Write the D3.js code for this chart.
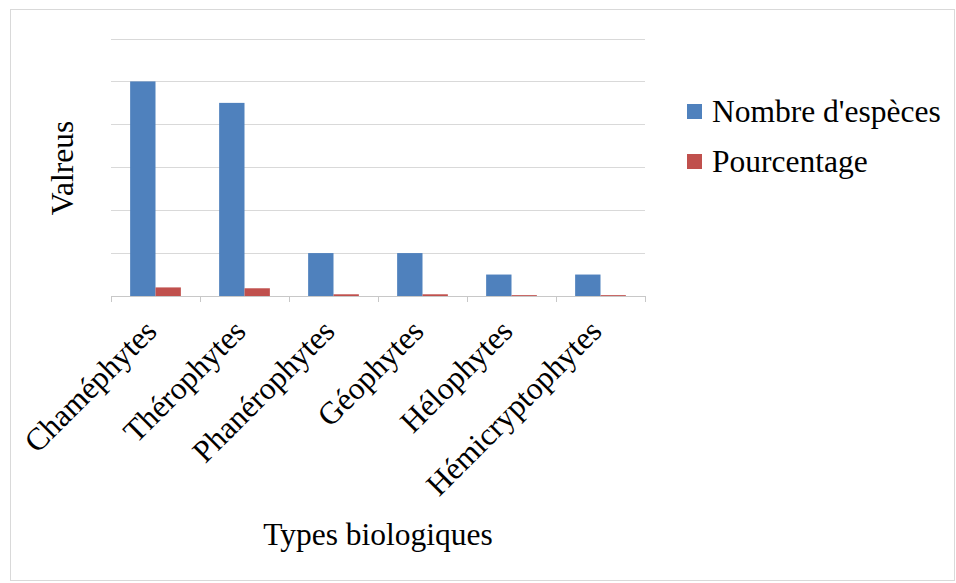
<!DOCTYPE html>
<html>
<head>
<meta charset="utf-8">
<script src="https://cdn.jsdelivr.net/npm/d3@7"></script>
<style>
  html, body { margin: 0; padding: 0; background: #fff; }
  svg { display: block; }
  text { font-family: "Liberation Serif", "Times New Roman", serif; fill: #000; }
</style>
</head>
<body>
<svg id="chart" width="956" height="583"></svg>
<script>
const categories = ["Chaméphytes", "Thérophytes", "Phanérophytes", "Géophytes", "Hélophytes", "Hémicryptophytes"];
const seriesNames = ["Nombre d'espèces", "Pourcentage"];
const nombreEspeces = [10, 9, 2, 2, 1, 1];
const pourcentage = [0.40, 0.36, 0.08, 0.08, 0.04, 0.04];
const yTicks = [0, 2, 4, 6, 8, 10, 12];
const colors = ["#4f81bd", "#c0504d"];

(function () {
const seriesValues = [nombreEspeces, pourcentage];
const svg = d3.select("#chart");
const fs = 31.5;

// outer frame
svg.append("rect")
  .attr("x", 10.5).attr("y", 9.5).attr("width", 944).attr("height", 571)
  .attr("fill", "none").attr("stroke", "#d9d9d9").attr("stroke-width", 1);

const pLeft = 111, pRight = 645, pTop = 38.5, pBottom = 296;

const x0 = d3.scaleBand().domain(categories).range([pLeft, pRight])
  .paddingInner(0.43).paddingOuter(0.215);
const x1 = d3.scaleBand().domain(seriesNames).range([0, x0.bandwidth()]).padding(0);
const y = d3.scaleLinear().domain([0, 12]).range([pBottom, pTop]);

// gridlines
svg.append("g").selectAll("line").data(yTicks.slice(1)).join("line")
  .attr("x1", pLeft).attr("x2", pRight)
  .attr("y1", d => Math.round(y(d)) + 0.5).attr("y2", d => Math.round(y(d)) + 0.5)
  .attr("stroke", "#d9d9d9").attr("stroke-width", 1);

// bars
const groups = svg.append("g").selectAll("g").data(categories).join("g")
  .attr("transform", d => `translate(${x0(d)},0)`);
groups.selectAll("rect")
  .data((c, i) => seriesNames.map((s, k) => ({ s, k, v: seriesValues[k][i] })))
  .join("rect")
  .attr("x", d => x1(d.s))
  .attr("width", x1.bandwidth())
  .attr("y", d => y(d.v))
  .attr("height", d => pBottom - y(d.v))
  .attr("fill", d => colors[d.k]);

// x axis with ticks at band boundaries
const step = x0.step();
const boundaries = d3.range(categories.length + 1).map(i => pLeft + i * step);
const axis = svg.append("g");
axis.append("line")
  .attr("x1", pLeft).attr("x2", pRight)
  .attr("y1", pBottom + 0.5).attr("y2", pBottom + 0.5)
  .attr("stroke", "#c8c8c8").attr("stroke-width", 1);
axis.selectAll("line.tick").data(boundaries).join("line")
  .attr("class", "tick")
  .attr("x1", d => Math.round(d) + 0.5).attr("x2", d => Math.round(d) + 0.5)
  .attr("y1", pBottom).attr("y2", pBottom + 6)
  .attr("stroke", "#c8c8c8").attr("stroke-width", 1);

// rotated category labels
svg.append("g").selectAll("text").data(categories).join("text")
  .attr("transform", d => `translate(${x0(d) + x0.bandwidth() / 2 + 3},${pBottom + 37}) rotate(-45)`)
  .attr("text-anchor", "end")
  .attr("font-size", fs)
  .text(d => d);

// axis titles
svg.append("text")
  .attr("x", 378).attr("y", 545)
  .attr("text-anchor", "middle")
  .attr("font-size", fs)
  .text("Types biologiques");

svg.append("text")
  .attr("transform", "translate(73,168) rotate(-90)")
  .attr("text-anchor", "middle")
  .attr("font-size", fs)
  .text("Valreus");

// legend
const legend = svg.append("g").selectAll("g").data(seriesNames).join("g")
  .attr("transform", (d, i) => `translate(687,${104 + i * 50})`);
legend.append("rect")
  .attr("width", 15).attr("height", 15)
  .attr("fill", (d, i) => colors[i]);
legend.append("text")
  .attr("x", 25).attr("y", 18)
  .attr("font-size", fs)
  .text(d => d);
})();
</script>
</body>
</html>
